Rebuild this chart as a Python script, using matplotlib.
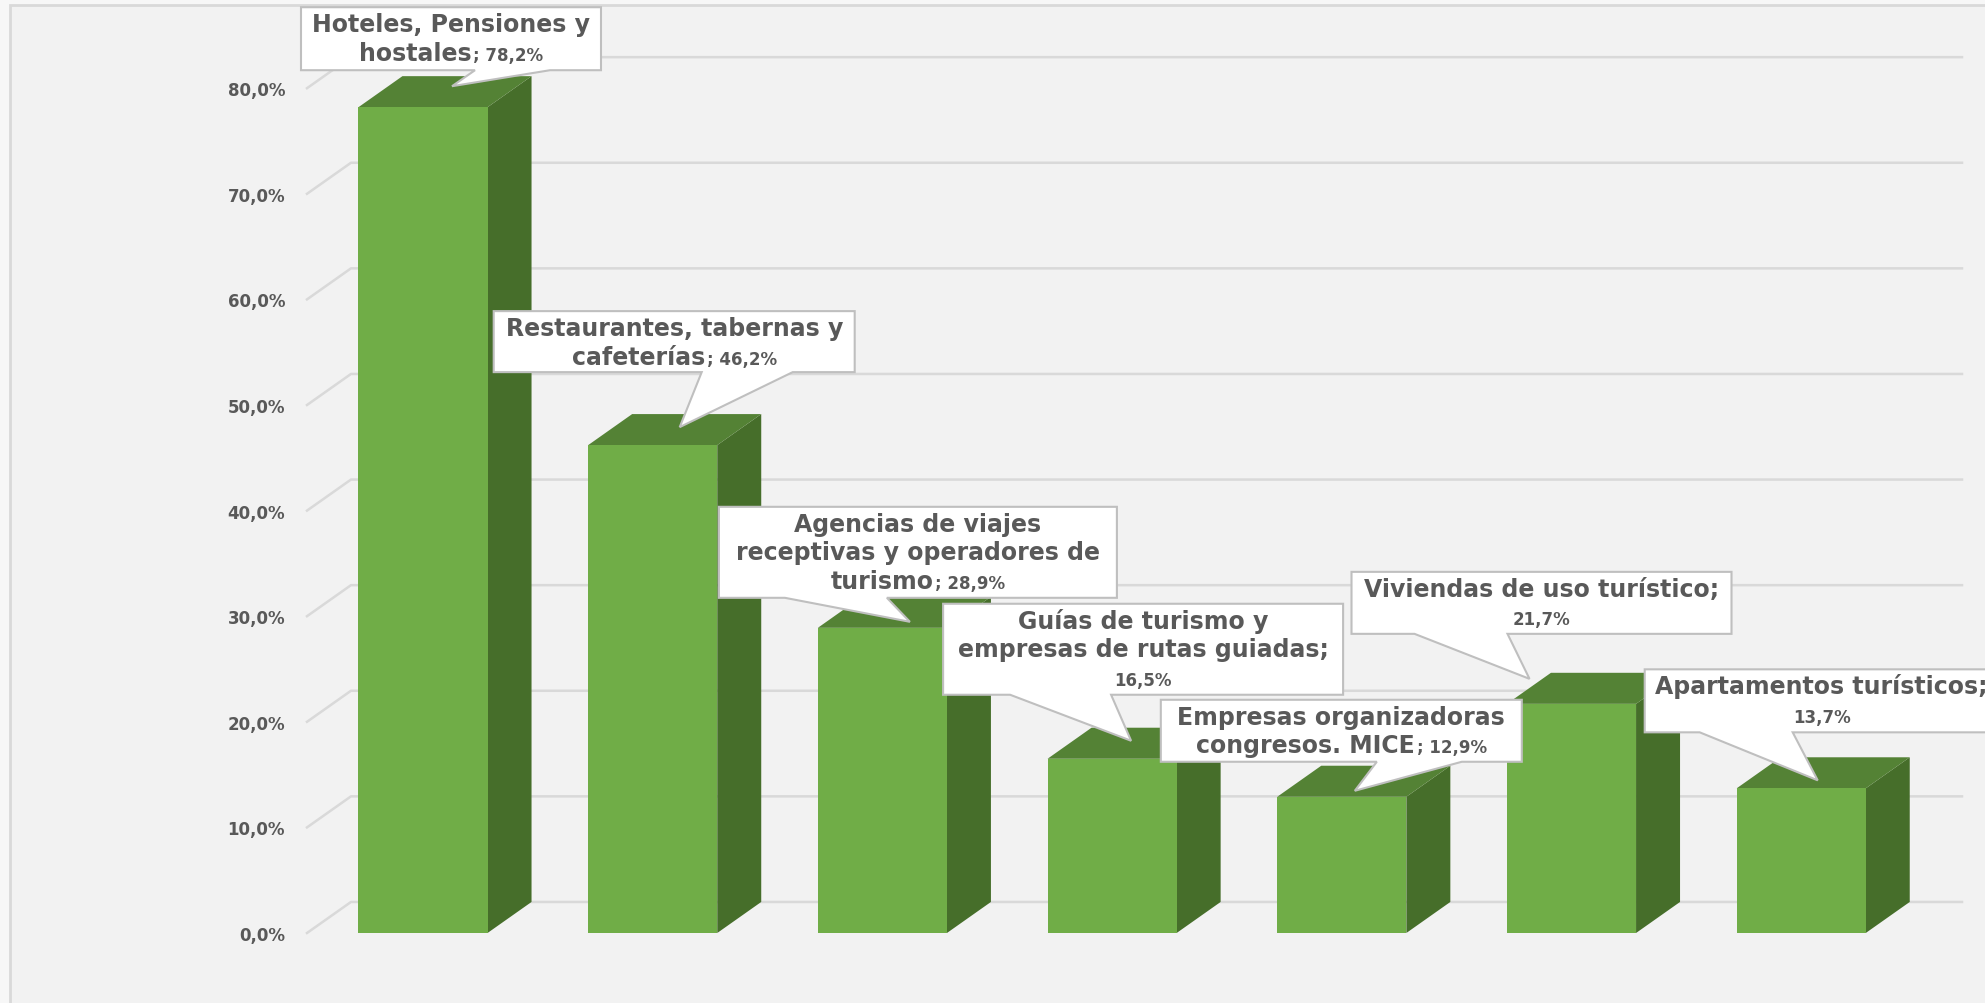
import matplotlib
matplotlib.use("Agg")
import matplotlib.pyplot as plt
from matplotlib.patches import Polygon, Rectangle
from matplotlib.transforms import IdentityTransform

categories = [
    "Hoteles, Pensiones y\nhostales",
    "Restaurantes, tabernas y\ncafeterías",
    "Agencias de viajes\nreceptivas y operadores de\nturismo",
    "Guías de turismo y\nempresas de rutas guiadas",
    "Empresas organizadoras\ncongresos. MICE",
    "Viviendas de uso turístico",
    "Apartamentos turísticos",
]
values = [78.2, 46.2, 28.9, 16.5, 12.9, 21.7, 13.7]
tick_values = [0, 10, 20, 30, 40, 50, 60, 70, 80]

FRONT = "#70AD47"
TOP = "#548235"
SIDE = "#466E2A"
GRID = "#D9D9D9"
TEXT = "#595959"
BIG = 17
SMALL = 12

# callout layout, pixels relative to the top centre of each bar front:
# box left, right, top, bottom, pointer base x0, x1, tip dx, dy, value on own line
callouts = [
    (-122, 178, 100, 37, 52, 127, 29, 21, False),
    (-159, 202, 134, 73, 49, 140, 27, 18, False),
    (-163.5, 234.5, 121, 30, -97.5, 4.5, 27.5, 6, False),
    (-169, 231, 155, 64, -102, -1, 19, 18, True),
    (-181, 180, 97, 35, 35, 120, 13, 6, False),
    (-220, 160, 132, 70, -157, -64, -42, 25, True),
    (-156.5, 197.5, 119, 56, -101.5, -8.5, 16.5, 8, True),
]

W, H = 1985, 1004
fig = plt.figure(figsize=(W / 100, H / 100), dpi=100, facecolor="#F7F7F7")
fig.add_artist(Rectangle((10 / W, -0.05), 1.1, (H - 6) / H + 0.05,
                         transform=fig.transFigure, facecolor="#F2F2F2",
                         edgecolor=GRID, lw=2, zorder=-1))

ax = fig.add_axes([307 / W, 70 / H, 1655 / W, 844.8 / H])
ax.set_xlim(-0.505, 6.70)
ax.set_ylim(0, 80)
ax.patch.set_visible(False)
for s in ax.spines.values():
    s.set_visible(False)
ax.set_xticks([])
ax.set_yticks(tick_values)
ax.set_yticklabels([f"{t:.1f}".replace(".", ",") + "%" for t in tick_values],
                   color=TEXT, fontsize=12, fontweight="bold")
ax.tick_params(axis="y", length=0, pad=15.8)

dx, dy = 0.1915, 2.94
hw = 0.281

for t in tick_values:
    ax.plot([-0.505, -0.505 + dx, 6.70], [t, t + dy, t + dy], color=GRID,
            lw=1.8, clip_on=False, zorder=1)

for i, v in enumerate(values):
    front = [(i - hw, 0), (i + hw, 0), (i + hw, v), (i - hw, v)]
    side = [(i + hw, 0), (i + hw + dx, dy), (i + hw + dx, v + dy), (i + hw, v)]
    top = [(i - hw, v), (i + hw, v), (i + hw + dx, v + dy), (i - hw + dx, v + dy)]
    for pts, c in [(side, SIDE), (top, TOP), (front, FRONT)]:
        ax.add_patch(Polygon(pts, closed=True, fc=c, ec="none", zorder=2,
                             clip_on=False))

renderer = fig.canvas.get_renderer()

for i, (cat, v, lay) in enumerate(zip(categories, values, callouts)):
    L, R, T, B, b0, b1, tx, ty, newline = lay
    px, py = ax.transData.transform((i, v))
    verts = [(px + L, py + T), (px + R, py + T), (px + R, py + B),
             (px + b1, py + B), (px + tx, py + ty), (px + b0, py + B),
             (px + L, py + B)]
    fig.add_artist(Polygon(verts, closed=True, fc="white", ec="#BFBFBF",
                           lw=1.5, transform=IdentityTransform(), zorder=5))

    val = f"{v:.1f}".replace(".", ",") + "%"
    lines = cat.split("\n")
    rows = [[(l, BIG)] for l in lines]
    if newline:
        rows[-1] = [(lines[-1] + ";", BIG)]
        rows.append([(val, SMALL)])
    else:
        rows[-1].append(("; " + val, SMALL))

    cx = px + (L + R) / 2
    for k, row in enumerate(rows):
        base = py + T - 24 - 28.5 * k
        arts = [fig.text(0, base, s, fontsize=fs, fontweight="bold", color=TEXT,
                         ha="left", va="baseline", transform=IdentityTransform(),
                         zorder=6) for s, fs in row]
        widths = [a.get_window_extent(renderer).width for a in arts]
        gap = 2
        x = cx - (sum(widths) + gap * (len(arts) - 1)) / 2
        for a, w in zip(arts, widths):
            a.set_x(x)
            x += w + gap

fig.savefig("out.png", dpi=100, facecolor=fig.get_facecolor())
